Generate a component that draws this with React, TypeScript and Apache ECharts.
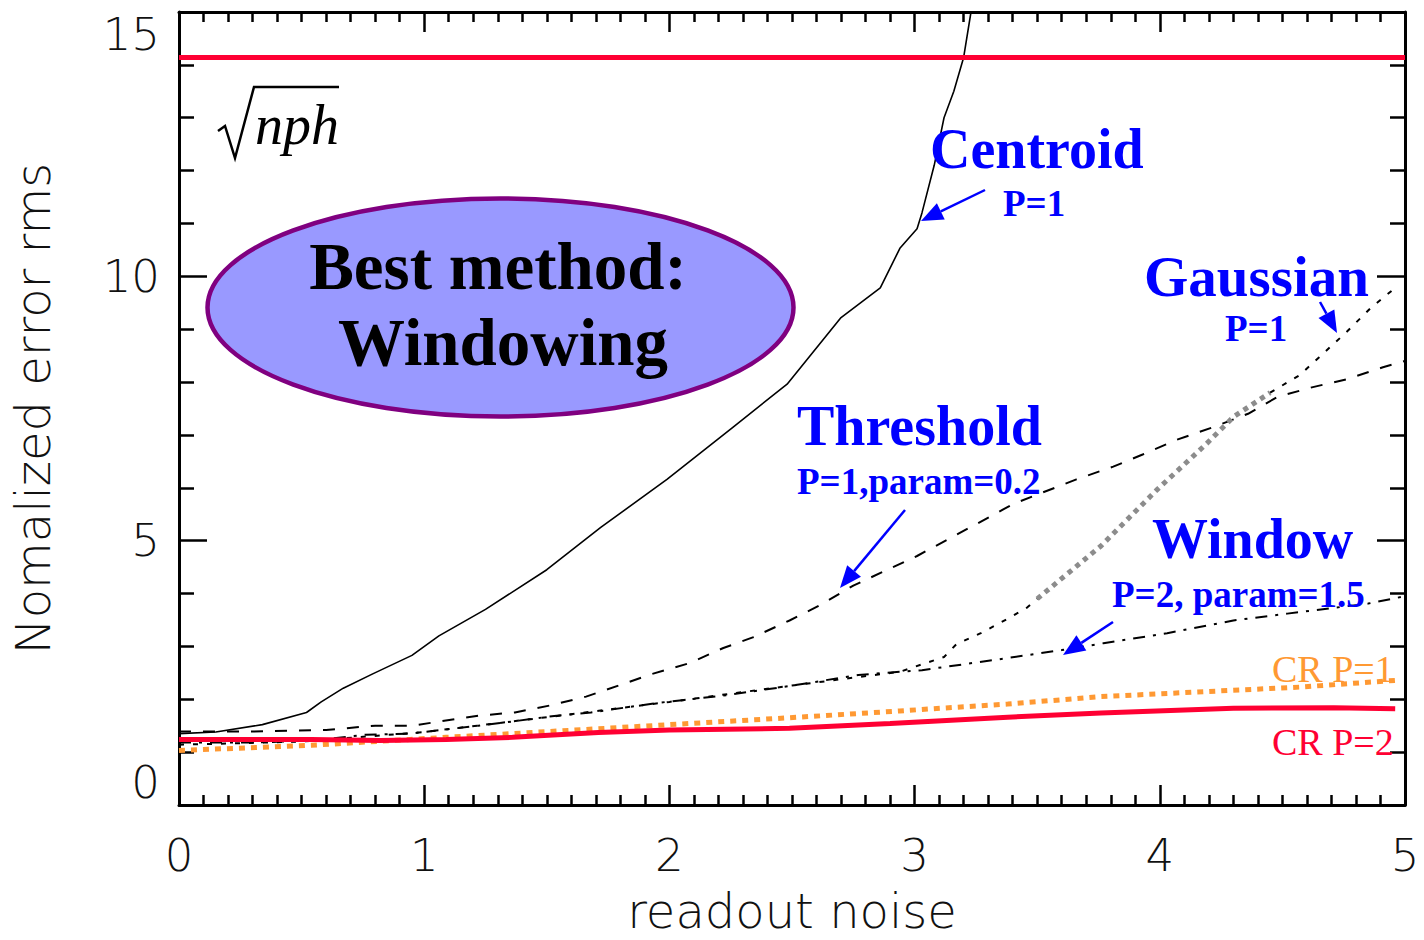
import React, { useEffect, useRef } from "react";
import * as echarts from "echarts";

// ---- data (x = readout noise, y = normalized error rms) ----
const xTickValues = [0, 1, 2, 3, 4, 5];
const yTickValues = [0, 5, 10, 15];

const centroid: number[][] = [
  [0, 1.35], [0.15, 1.38], [0.34, 1.52], [0.52, 1.75], [0.58, 1.95], [0.67, 2.21],
  [0.79, 2.48], [0.95, 2.83], [1.06, 3.2], [1.25, 3.7], [1.5, 4.45], [1.72, 5.25],
  [1.99, 6.16], [2.26, 7.15], [2.48, 7.96], [2.7, 9.22], [2.86, 9.78], [2.94, 10.53],
  [3.01, 10.9], [3.03, 11.2], [3.08, 12.1], [3.12, 13.0], [3.16, 13.5], [3.2, 14.14],
  [3.23, 15.0], [3.25, 15.4],
];

const threshold: number[][] = [
  [0, 1.39], [0.3, 1.39], [0.6, 1.42], [0.8, 1.5], [0.95, 1.5], [1.22, 1.69], [1.37, 1.75],
  [1.51, 1.88], [1.66, 2.05], [1.8, 2.27], [1.93, 2.48], [2.08, 2.68], [2.22, 2.97],
  [2.34, 3.17], [2.49, 3.49], [2.61, 3.77], [2.75, 4.15], [3.01, 4.71], [3.25, 5.31],
  [3.4, 5.69], [3.66, 6.16], [3.81, 6.4], [3.93, 6.63], [4.07, 6.91], [4.22, 7.15],
  [4.36, 7.4], [4.48, 7.72], [4.62, 7.9], [4.76, 8.05], [4.91, 8.28], [5.0, 8.4],
];

const windowing: number[][] = [
  [0, 1.18], [0.3, 1.18], [0.55, 1.22], [0.76, 1.33], [0.94, 1.35], [1.09, 1.43],
  [1.22, 1.5], [1.36, 1.58], [1.54, 1.69], [1.68, 1.75], [1.95, 1.93], [2.22, 2.07],
  [2.49, 2.25], [2.77, 2.46], [3.03, 2.55], [3.38, 2.78], [3.6, 2.93], [3.77, 3.06],
  [4.03, 3.25], [4.3, 3.49], [4.52, 3.62], [4.85, 3.81], [5.0, 3.95],
];

const gaussian: number[][] = [
  [0, 1.14], [0.5, 1.2], [1.0, 1.38], [1.5, 1.66], [2.0, 1.95], [2.5, 2.26], [2.94, 2.52],
  [3.12, 2.8], [3.17, 3.04], [3.27, 3.25], [3.39, 3.55], [3.46, 3.74], [3.5, 3.9],
  [3.76, 4.9], [3.99, 5.97], [4.19, 6.83], [4.3, 7.34], [4.45, 7.8],
  [4.57, 8.13], [4.65, 8.47], [4.76, 8.94], [4.86, 9.4], [4.97, 9.82],
];
const gaussianGreyFrom = 3.5;
const gaussianGreyTo = 4.45;

const crP1: number[][] = [
  [0, 1.03], [0.54, 1.13], [1.09, 1.28], [1.7, 1.44], [2.49, 1.65], [2.94, 1.78],
  [3.38, 1.91], [3.76, 2.05], [4.57, 2.23], [4.97, 2.36],
];

const crP2: number[][] = [
  [0, 1.24], [0.54, 1.24], [0.82, 1.22], [1.09, 1.24], [1.36, 1.28], [1.71, 1.37],
  [2.0, 1.42], [2.49, 1.45], [2.9, 1.54], [3.38, 1.66], [3.76, 1.74], [4.3, 1.83],
  [4.71, 1.84], [4.96, 1.82],
];

const sqrtNphLevel = 14.14;
const sqrtNphLine: number[][] = [[0, sqrtNphLevel], [5, sqrtNphLevel]];

// ---- styling helpers ----
const BLUE = "#0000ff";
const SERIF = '"Liberation Serif", "Times New Roman", serif';
const SANS = '"DejaVu Sans", "Liberation Sans", sans-serif';

function blueText(text: string, x: number, y: number, size: number) {
  return {
    type: "text",
    x,
    y,
    z: 50,
    style: {
      text,
      fill: BLUE,
      font: `bold ${size}px ${SERIF}`,
      align: "left",
      verticalAlign: "middle",
      textShadowColor: "#000050",
      textShadowOffsetX: 2,
      textShadowOffsetY: 2,
      textShadowBlur: 0,
    },
  };
}

function arrow(x1: number, y1: number, x2: number, y2: number) {
  const dx = x2 - x1;
  const dy = y2 - y1;
  const len = Math.sqrt(dx * dx + dy * dy);
  const ux = dx / len;
  const uy = dy / len;
  const hl = 22;
  const hw = 9;
  const bx = x2 - ux * hl;
  const by = y2 - uy * hl;
  return [
    {
      type: "line",
      z: 50,
      shape: { x1, y1, x2: bx, y2: by },
      style: { stroke: BLUE, lineWidth: 2.5 },
    },
    {
      type: "polygon",
      z: 50,
      shape: {
        points: [
          [x2, y2],
          [bx - uy * hw, by + ux * hw],
          [bx + uy * hw, by - ux * hw],
        ],
      },
      style: { fill: BLUE },
    },
  ];
}

const axisLabelStyle = {
  fontSize: 45,
  fontFamily: SANS,
  fontWeight: 200 as any,
  color: "#111",
};
const axisNameStyle = { ...axisLabelStyle, fontSize: 48 };

function makeXAxis(position: "bottom" | "top", showLabels: boolean) {
  return {
    type: "value",
    position,
    min: xTickValues[0],
    max: xTickValues[xTickValues.length - 1],
    interval: 1,
    axisLine: { show: true, onZero: false, lineStyle: { color: "#000", width: 3 } },
    axisTick: { show: true, inside: true, length: 20, lineStyle: { color: "#000", width: 2.5 } },
    minorTick: { show: true, splitNumber: 10, length: 10, lineStyle: { color: "#000", width: 2.5 } },
    splitLine: { show: false },
    minorSplitLine: { show: false },
    axisLabel: showLabels ? { show: true, margin: 28, ...axisLabelStyle } : { show: false },
    ...(showLabels
      ? {
          name: "readout noise",
          nameLocation: "middle",
          nameGap: 82,
          nameTextStyle: { ...axisNameStyle },
        }
      : {}),
  };
}

function makeYAxis(position: "left" | "right", showLabels: boolean) {
  return {
    type: "value",
    position,
    min: yTickValues[0],
    max: yTickValues[yTickValues.length - 1],
    interval: 5,
    axisLine: { show: true, onZero: false, lineStyle: { color: "#000", width: 3 } },
    axisTick: { show: true, inside: true, length: 28, lineStyle: { color: "#000", width: 2.5 } },
    minorTick: { show: true, splitNumber: 5, length: 15, lineStyle: { color: "#000", width: 2.5 } },
    splitLine: { show: false },
    minorSplitLine: { show: false },
    axisLabel: showLabels
      ? {
          show: true,
          margin: 19,
          verticalAlignMinLabel: "bottom",
          verticalAlignMaxLabel: "top",
          ...axisLabelStyle,
        }
      : { show: false },
    ...(showLabels
      ? {
          name: "Nomalized error rms",
          nameLocation: "middle",
          nameGap: 122,
          nameRotate: 90,
          nameTextStyle: { ...axisNameStyle },
        }
      : {}),
  };
}

function lineSeries(name: string, data: number[][], color: string, width: number, type: any, z = 5) {
  return {
    name,
    type: "line",
    data,
    symbol: "none",
    showSymbol: false,
    clip: true,
    z,
    lineStyle: { color, width, type },
    emphasis: { disabled: true },
  };
}

export default function App() {
  const ref = useRef<HTMLDivElement>(null);

  useEffect(() => {
    if (!ref.current) return;
    const chart = echarts.init(ref.current, null, { renderer: "svg" });

    const gaussLow = gaussian.filter((p) => p[0] <= gaussianGreyFrom);
    const gaussMid = gaussian.filter((p) => p[0] >= gaussianGreyFrom && p[0] <= gaussianGreyTo);
    const gaussHigh = gaussian.filter((p) => p[0] >= gaussianGreyTo);

    const option: any = {
      animation: false,
      backgroundColor: "#ffffff",
      grid: { left: 179, top: 12, right: 19, bottom: 129, containLabel: false },
      xAxis: [makeXAxis("bottom", true), makeXAxis("top", false)],
      yAxis: [makeYAxis("left", true), makeYAxis("right", false)],
      series: [
        lineSeries("Centroid P=1", centroid, "#000", 1.6, "solid"),
        lineSeries("Threshold P=1, param=0.2", threshold, "#000", 2, [12, 12]),
        lineSeries("Window P=2, param=1.5", windowing, "#000", 2, [12, 8, 3, 8]),
        lineSeries("Gaussian P=1", gaussLow, "#000", 2, [5, 9]),
        lineSeries("Gaussian P=1 (mid)", gaussMid, "#8c8c8c", 5, [5, 5]),
        lineSeries("Gaussian P=1 (high)", gaussHigh, "#000", 2, [5, 9]),
        lineSeries("CR P=1", crP1, "#ff9933", 5, [6, 6], 6),
        lineSeries("CR P=2", crP2, "#ff0033", 5, "solid", 7),
        lineSeries("sqrt(nph)", sqrtNphLine, "#ff0033", 5, "solid", 7),
      ],
      graphic: [
        // sqrt(nph) label
        {
          type: "polyline",
          z: 50,
          shape: { points: [[218, 131], [225, 126], [235, 158], [254, 87], [339, 87]] },
          style: { stroke: "#000", lineWidth: 2.5, fill: null },
        },
        {
          type: "text",
          x: 255,
          y: 125,
          z: 50,
          style: {
            text: "nph",
            fill: "#000",
            font: `italic 56px ${SERIF}`,
            align: "left",
            verticalAlign: "middle",
          },
        },
        // Best method ellipse
        {
          type: "ellipse",
          z: 40,
          shape: { cx: 500.5, cy: 307.5, rx: 293, ry: 109 },
          style: { fill: "#9999ff", stroke: "#800080", lineWidth: 4.5 },
        },
        {
          type: "text",
          x: 498,
          y: 266,
          z: 50,
          style: {
            text: "Best method:",
            fill: "#000",
            font: `bold 67px ${SERIF}`,
            align: "center",
            verticalAlign: "middle",
          },
        },
        {
          type: "text",
          x: 503,
          y: 342,
          z: 50,
          style: {
            text: "Windowing",
            fill: "#000",
            font: `bold 67px ${SERIF}`,
            align: "center",
            verticalAlign: "middle",
          },
        },
        // Method annotations
        blueText("Centroid", 930, 149, 56),
        blueText("P=1", 1003, 203, 37),
        ...arrow(985, 190, 921, 221),
        blueText("Gaussian", 1144, 276, 57),
        blueText("P=1", 1225, 328, 37),
        ...arrow(1320, 302, 1337, 333),
        blueText("Threshold", 797, 426, 56),
        blueText("P=1,param=0.2", 797, 481, 37),
        ...arrow(905, 510, 840, 588),
        blueText("Window", 1152, 539, 56),
        blueText("P=2, param=1.5", 1112, 594, 37),
        ...arrow(1113, 622, 1063, 655),
        {
          type: "text",
          x: 1272,
          y: 669,
          z: 50,
          style: {
            text: "CR P=1",
            fill: "#ff9933",
            font: `38px ${SERIF}`,
            align: "left",
            verticalAlign: "middle",
          },
        },
        {
          type: "text",
          x: 1272,
          y: 742,
          z: 50,
          style: {
            text: "CR P=2",
            fill: "#ff0033",
            font: `38px ${SERIF}`,
            align: "left",
            verticalAlign: "middle",
          },
        },
      ],
    };

    chart.setOption(option);
    return () => chart.dispose();
  }, []);

  return (
    <div
      ref={ref}
      style={{ position: "absolute", left: 0, top: 0, width: 1424, height: 940, background: "#fff" }}
    />
  );
}
